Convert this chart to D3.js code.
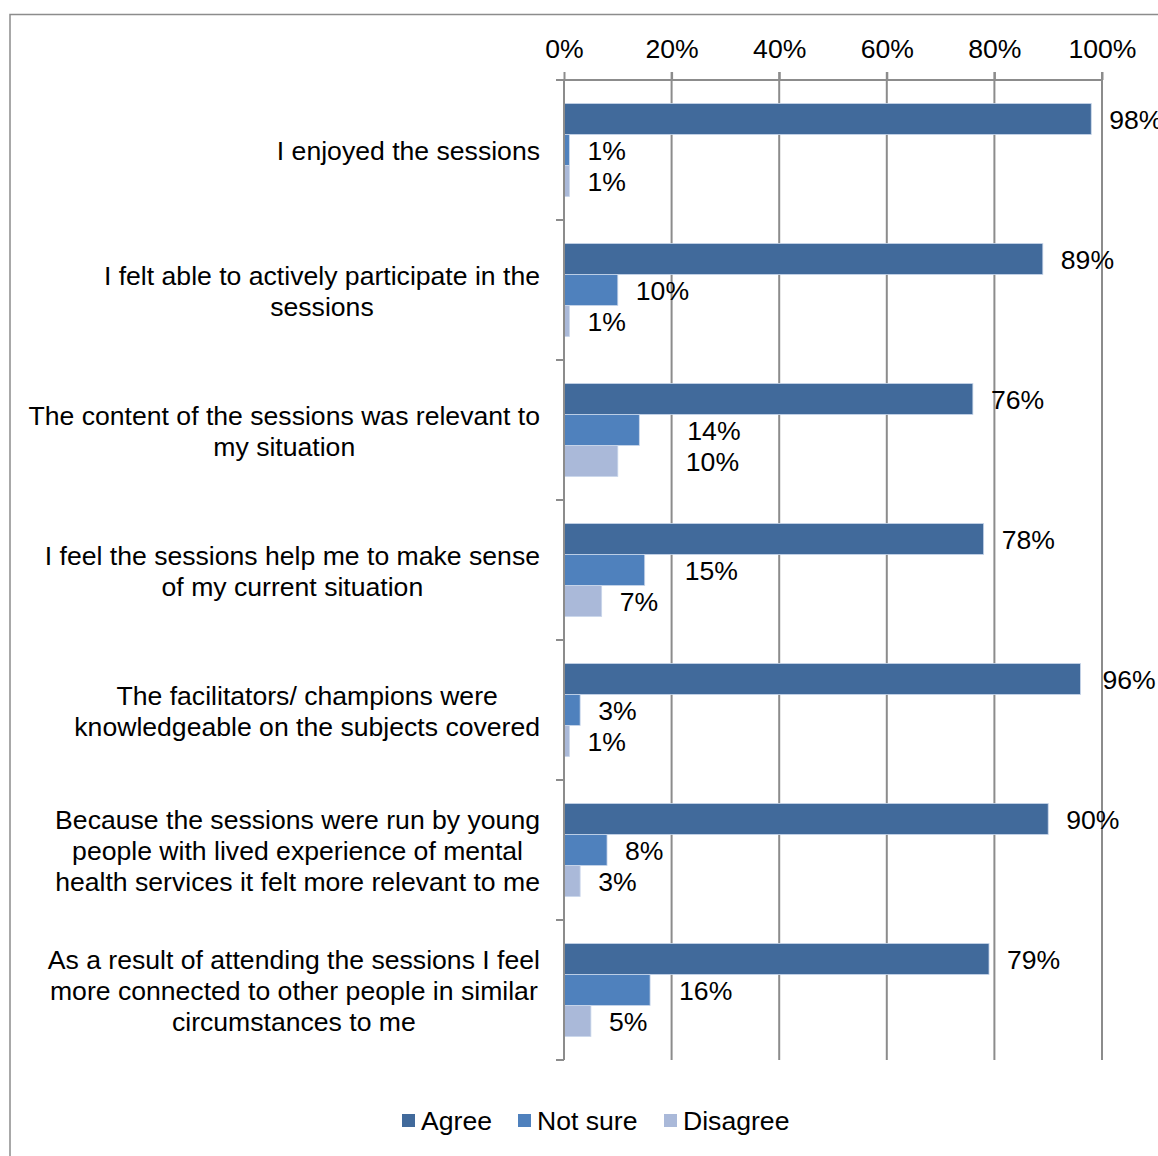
<!DOCTYPE html>
<html>
<head>
<meta charset="utf-8">
<script src="https://cdn.jsdelivr.net/npm/d3@7"></script>
<style>
  body { margin: 0; background: #fff; }
  svg { font-family: "Liberation Sans", Arial, sans-serif; }
</style>
</head>
<body>
<div id="chart"></div>
<script>
const categories = [
  "I enjoyed the sessions",
  "I felt able to actively participate in the|sessions",
  "The content of the sessions was relevant to|my situation",
  "I feel the sessions help me to make sense|of my current situation",
  "The facilitators/ champions were|knowledgeable on the subjects covered",
  "Because the sessions were run by young|people with lived experience of mental|health services it felt more relevant to me",
  "As a result of attending the sessions I feel|more connected to other people in similar|circumstances to me"
];
const series = ["Agree", "Not sure", "Disagree"];
const agree = [98, 89, 76, 78, 96, 90, 79];
const notSure = [1, 10, 14, 15, 3, 8, 16];
const disagree = [1, 1, 10, 7, 1, 3, 5];
const ticks = [0, 20, 40, 60, 80, 100];

const values = [agree, notSure, disagree];
const colors = ["#416a9b", "#4f81bd", "#aab9d9"];

// label nudges (Excel labels that were dragged by hand), keyed "cat-series"
const nudge = { "2-1": 30, "2-2": 50, "3-1": 22, "4-0": 4, "6-1": 11 };

const width = 1158, height = 1156;
const plot = { left: 564, right: 1102, top: 80, bottom: 1060 };
const fontSize = "26.6px";

const svg = d3.select("#chart").append("svg")
    .attr("width", width)
    .attr("height", height);

// outer frame
svg.append("rect")
    .attr("x", 10).attr("y", 14.5)
    .attr("width", width + 10).attr("height", height + 10)
    .attr("fill", "none")
    .attr("stroke", "#8c8c8c")
    .attr("stroke-width", 1.5);

const x = d3.scaleLinear().domain([0, 100]).range([plot.left, plot.right]);

const y0 = d3.scaleBand()
    .domain(d3.range(categories.length))
    .range([plot.top, plot.bottom]);

const y1 = d3.scaleBand()
    .domain(d3.range(series.length))
    .range([23.5, y0.bandwidth() - 23.5]);

// gridlines
svg.append("g")
  .selectAll("line")
  .data(ticks.slice(1))
  .enter().append("line")
    .attr("x1", d => x(d)).attr("x2", d => x(d))
    .attr("y1", plot.top - 8).attr("y2", plot.bottom)
    .attr("stroke", "#8c8c8c")
    .attr("stroke-width", 2);

// bars
const groups = svg.append("g")
  .selectAll("g")
  .data(categories)
  .enter().append("g")
    .attr("transform", (d, i) => "translate(0," + y0(i) + ")");

groups.selectAll("rect")
    .data((d, i) => series.map((s, j) => ({ cat: i, s: j, v: values[j][i] })))
  .enter().append("rect")
    .attr("x", x(0))
    .attr("y", d => y1(d.s))
    .attr("width", d => x(d.v) - x(0))
    .attr("height", y1.bandwidth())
    .attr("fill", d => colors[d.s])
    .attr("stroke", "#c9d6ea")
    .attr("stroke-width", 0.8);

groups.selectAll("text.val")
    .data((d, i) => series.map((s, j) => ({ cat: i, s: j, v: values[j][i] })))
  .enter().append("text")
    .attr("class", "val")
    .attr("x", d => x(d.v) + 18 + (nudge[d.cat + "-" + d.s] || 0))
    .attr("y", d => y1(d.s) + y1.bandwidth() / 2 + 1)
    .attr("dy", "0.35em")
    .style("font-size", fontSize)
    .style("fill", "#000")
    .text(d => d.v + "%");

// top axis
const axisTop = svg.append("g")
    .attr("transform", "translate(0," + plot.top + ")")
    .call(d3.axisTop(x).tickValues(ticks).tickSize(8).tickPadding(14).tickFormat(d => d + "%"));
axisTop.select(".domain")
    .attr("d", "M" + (plot.left - 8) + ",0H" + plot.right)
    .attr("stroke", "#8c8c8c").attr("stroke-width", 2);
axisTop.selectAll(".tick line").attr("stroke", "#8c8c8c").attr("stroke-width", 2);
axisTop.selectAll(".tick text")
    .style("font-size", fontSize)
    .style("font-family", "Liberation Sans, Arial, sans-serif")
    .attr("fill", "#000");

// left axis line with category ticks
svg.append("line")
    .attr("x1", plot.left).attr("x2", plot.left)
    .attr("y1", plot.top).attr("y2", plot.bottom)
    .attr("stroke", "#8c8c8c").attr("stroke-width", 2);
svg.append("g")
  .selectAll("line")
  .data(d3.range(categories.length + 1))
  .enter().append("line")
    .attr("x1", plot.left - 8).attr("x2", plot.left)
    .attr("y1", i => plot.top + i * y0.step())
    .attr("y2", i => plot.top + i * y0.step())
    .attr("stroke", "#8c8c8c").attr("stroke-width", 2);

// category labels: block right-aligned at 540, lines centred within block
const lineH = 31;
svg.append("g")
  .selectAll("text")
  .data(categories)
  .enter().append("text")
    .attr("text-anchor", "middle")
    .style("font-size", fontSize)
    .style("fill", "#000")
    .each(function(d, i) {
      const lines = d.split("|");
      const cy = y0(i) + y0.bandwidth() / 2 + 1;
      const t = d3.select(this);
      const spans = lines.map((ln, k) => t.append("tspan")
          .attr("y", cy + (k - (lines.length - 1) / 2) * lineH)
          .attr("dy", "0.35em")
          .text(ln));
      const maxW = d3.max(spans, s => s.node().getComputedTextLength());
      spans.forEach(s => s.attr("x", 540 - maxW / 2));
    });

// legend
const legendX = [402, 518, 664];
const legend = svg.append("g")
  .selectAll("g")
  .data(series)
  .enter().append("g")
    .attr("transform", (d, i) => "translate(" + legendX[i] + ",1114)");
legend.append("rect")
    .attr("width", 13).attr("height", 13)
    .attr("fill", (d, i) => colors[i]);
legend.append("text")
    .attr("x", 19).attr("y", 7)
    .attr("dy", "0.35em")
    .style("font-size", fontSize)
    .style("fill", "#000")
    .text(d => d);
</script>
</body>
</html>
